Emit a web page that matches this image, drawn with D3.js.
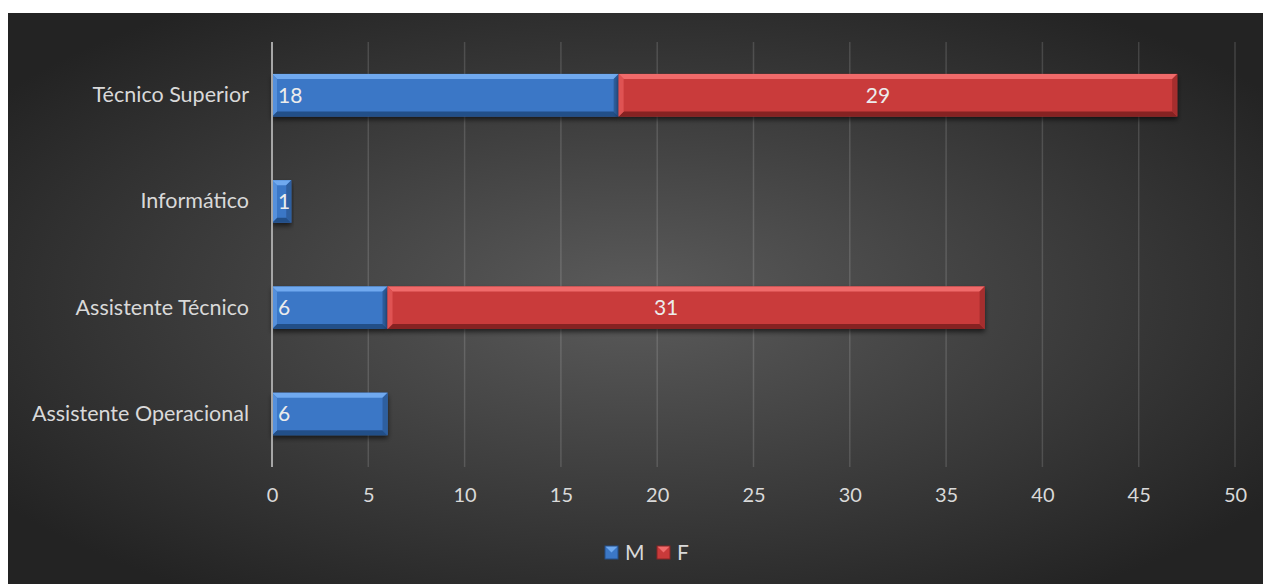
<!DOCTYPE html>
<html><head><meta charset="utf-8">
<script src="https://cdn.jsdelivr.net/npm/d3@7"></script>
<style>
html,body{margin:0;padding:0;background:#fff;}
svg{display:block;}
text{font-family:Lato,"Open Sans",sans-serif;}
</style></head>
<body>
<svg id="chart" width="1263" height="584"></svg>
<script>
const categories = ["Técnico Superior", "Informático", "Assistente Técnico", "Assistente Operacional"];
const seriesNames = ["M", "F"];
const valuesM = [18, 1, 6, 6];
const valuesF = [29, 0, 31, 0];
const xTicks = [0, 5, 10, 15, 20, 25, 30, 35, 40, 45, 50];

const W = 1263, H = 584;
const svg = d3.select("#chart");
const defs = svg.append("defs");

const rg = defs.append("radialGradient").attr("id","bg")
  .attr("cx","50%").attr("cy","50%").attr("r","62%")
  .attr("gradientUnits","objectBoundingBox");
rg.append("stop").attr("offset","0%").attr("stop-color","#5b5b5b");
rg.append("stop").attr("offset","100%").attr("stop-color","#232323");

const sh = defs.append("filter").attr("id","shadow").attr("x","-10%").attr("y","-30%").attr("width","120%").attr("height","180%");
sh.append("feDropShadow").attr("dx",0).attr("dy",3).attr("stdDeviation",2.5).attr("flood-color","#000").attr("flood-opacity",0.6);

svg.append("rect").attr("x",8).attr("y",13).attr("width",W-8).attr("height",H-13).attr("fill","url(#bg)");

const x = d3.scaleLinear().domain([0,50]).range([272,1235]);
const y = d3.scaleBand().domain(categories).range([42,467]).paddingInner(0.6).paddingOuter(0.3);

// gridlines
svg.append("g").selectAll("line").data(xTicks.slice(1)).join("line")
  .attr("x1",d=>x(d)).attr("x2",d=>x(d)).attr("y1",42).attr("y2",467)
  .attr("stroke","rgba(255,255,255,0.14)").attr("stroke-width",1.5);

// x axis labels
const xAxis = d3.axisBottom(x).tickValues(xTicks).tickSize(0).tickPadding(0);
const gx = svg.append("g").attr("transform","translate(0,488)").call(xAxis);
gx.select(".domain").remove();
gx.selectAll("text").attr("fill","#d9d9d9").attr("font-size",20).attr("dy","0.71em")
  .style("font-family","Lato,'Open Sans',sans-serif");

// y axis labels
const yAxis = d3.axisLeft(y).tickSize(0).tickPadding(0);
const gy = svg.append("g").attr("transform","translate(249,0)").call(yAxis);
gy.select(".domain").remove();
gy.selectAll("text").attr("fill","#d9d9d9").attr("font-size",21.5)
  .style("font-family","Lato,'Open Sans',sans-serif");

const palettes = {
  M:{mid:"#3b77c6", light:"#6fa9ef", lightSide:"#5590dc", dark:"#244f88", darkSide:"#2d5e9f"},
  F:{mid:"#c93a3a", light:"#f06b6b", lightSide:"#df5353", dark:"#862424", darkSide:"#a52e2e"}
};

const stacked = categories.map((c,i)=>({cat:c, segs:[
  {s:"M", x0:0, x1:valuesM[i], v:valuesM[i]},
  {s:"F", x0:valuesM[i], x1:valuesM[i]+valuesF[i], v:valuesF[i]}
].filter(d=>d.v>0)}));

const bars = svg.append("g");
stacked.forEach(row=>{
  row.segs.forEach(seg=>{
    const p = palettes[seg.s];
    const X0 = x(seg.x0), X1 = x(seg.x1), Y = y(row.cat), h = y.bandwidth();
    const b = Math.min(5, (X1-X0)/2);
    const g = bars.append("g").attr("filter","url(#shadow)");
    g.append("rect").attr("x",X0).attr("y",Y).attr("width",X1-X0).attr("height",h).attr("fill",p.mid);
    const poly = (pts,fill)=>g.append("polygon").attr("points",pts.map(q=>q.join(",")).join(" ")).attr("fill",fill);
    poly([[X0,Y],[X1,Y],[X1-b,Y+b],[X0+b,Y+b]], p.light);
    poly([[X0,Y+h],[X1,Y+h],[X1-b,Y+h-b],[X0+b,Y+h-b]], p.dark);
    poly([[X0,Y],[X0+b,Y+b],[X0+b,Y+h-b],[X0,Y+h]], p.lightSide);
    poly([[X1,Y],[X1-b,Y+b],[X1-b,Y+h-b],[X1,Y+h]], p.darkSide);
  });
});

// data labels
const labels = svg.append("g");
stacked.forEach(row=>{
  row.segs.forEach(seg=>{
    const X0 = x(seg.x0), X1 = x(seg.x1), Yc = y(row.cat)+y.bandwidth()/2;
    const isM = seg.s==="M";
    labels.append("text")
      .attr("x", isM ? X0+6 : (X0+X1)/2 - 20)
      .attr("y", Yc).attr("dy","0.36em")
      .attr("text-anchor", isM ? "start" : "middle")
      .attr("fill","#ececec").attr("font-size",21)
      .text(seg.v);
  });
});

// vertical axis line
svg.append("line").attr("x1",x(0)).attr("x2",x(0)).attr("y1",42).attr("y2",467)
  .attr("stroke","#a6a6a6").attr("stroke-width",2);

// legend
const legend = svg.append("g");
const legItems = [{n:seriesNames[0], x:605},{n:seriesNames[1], x:657}];
legItems.forEach(it=>{
  const p = palettes[it.n];
  const g = legend.append("g");
  const X0=it.x, Y=546, s=13;
  g.append("rect").attr("x",X0).attr("y",Y).attr("width",s).attr("height",s).attr("fill",p.mid);
  g.append("polygon").attr("points",`${X0},${Y} ${X0+s},${Y} ${X0+s/2},${Y+s/2}`).attr("fill",p.light);
  g.append("rect").attr("x",X0).attr("y",Y).attr("width",s).attr("height",s).attr("fill","none").attr("stroke",p.dark).attr("stroke-width",1);
  legend.append("text").attr("x",X0+20).attr("y",Y+s/2).attr("dy","0.36em")
    .attr("fill","#d9d9d9").attr("font-size",21).text(it.n);
});
</script>
</body></html>
